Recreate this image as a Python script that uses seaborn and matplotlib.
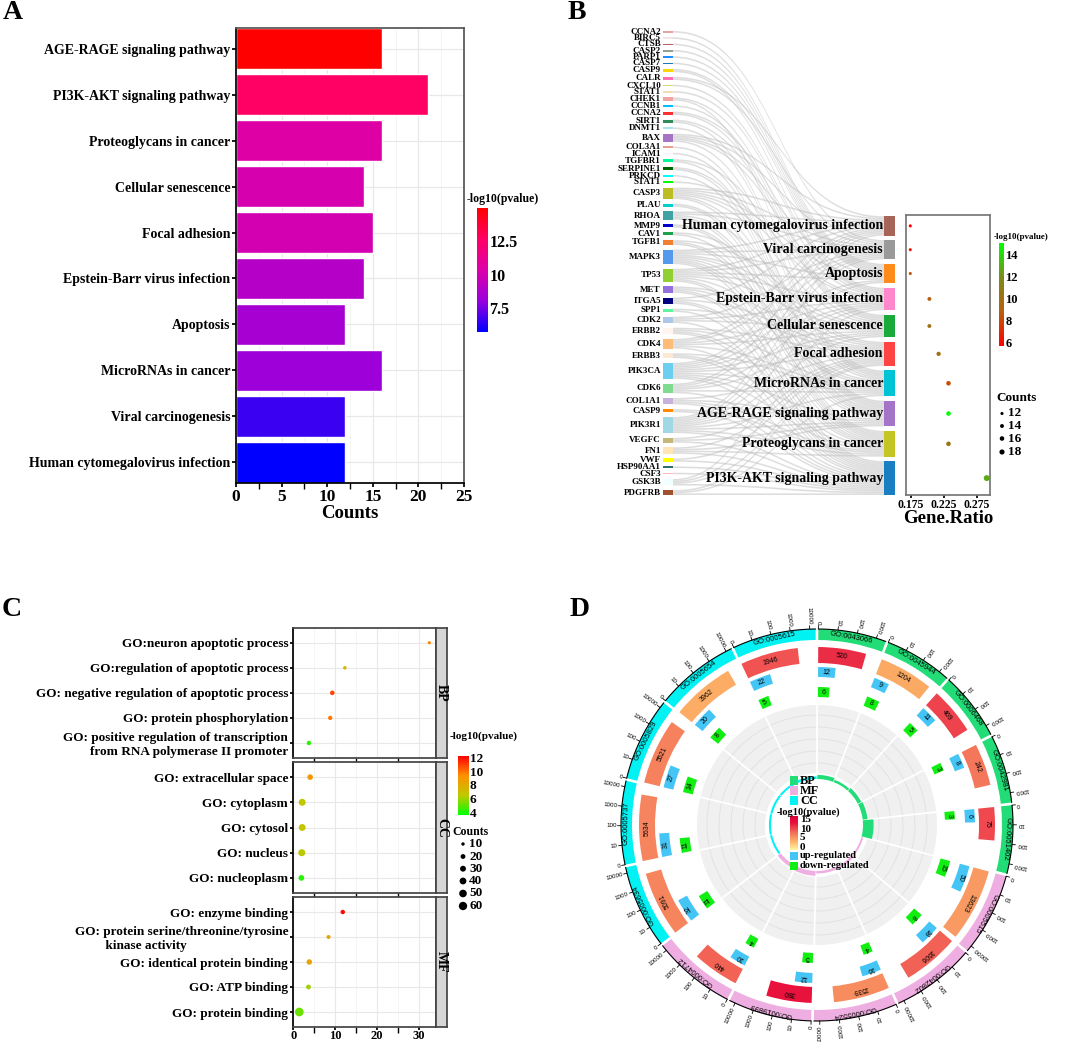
# %%
# ===== Importing Libraries =====
import numpy as np
import pandas as pd
import matplotlib
matplotlib.use('Agg')
import matplotlib.pyplot as plt
import seaborn as sns
from matplotlib.colors import LinearSegmentedColormap, Normalize
from matplotlib.cm import ScalarMappable
from matplotlib.patches import Rectangle, Wedge, PathPatch
from matplotlib.path import Path
from matplotlib.ticker import MultipleLocator

sns.set_theme(style='white', rc={'xtick.bottom': True, 'ytick.left': True})
plt.rcParams['font.family'] = ['Liberation Serif', 'DejaVu Serif']
plt.rcParams['font.weight'] = 'bold'
plt.rcParams['axes.labelweight'] = 'bold'
for key in ['text.color', 'axes.labelcolor', 'xtick.color', 'ytick.color']:
    plt.rcParams[key] = 'black'
SANS = ['Liberation Sans', 'DejaVu Sans']

# %%
# ===== Data : KEGG (panels A, B) =====
kegg_terms = ['AGE-RAGE signaling pathway', 'PI3K-AKT signaling pathway', 'Proteoglycans in cancer',
              'Cellular senescence', 'Focal adhesion', 'Epstein-Barr virus infection', 'Apoptosis',
              'MicroRNAs in cancer', 'Viral carcinogenesis', 'Human cytomegalovirus infection']
kegg_counts = [16, 21, 16, 14, 15, 14, 12, 16, 12, 12]
kegg_logp = [15.0, 12.7, 10.5, 10.1, 10.0, 9.0, 8.5, 8.2, 6.6, 5.7]
kegg_ratio = [0.232, 0.29, 0.232, 0.203, 0.217, 0.203, 0.174, 0.232, 0.174, 0.174]

path_order = ['Human cytomegalovirus infection', 'Viral carcinogenesis', 'Apoptosis',
              'Epstein-Barr virus infection', 'Cellular senescence', 'Focal adhesion',
              'MicroRNAs in cancer', 'AGE-RAGE signaling pathway', 'Proteoglycans in cancer',
              'PI3K-AKT signaling pathway']
path_colors = ['#a66557', '#9a9a9a', '#ff8c1a', '#ff88cc', '#1aaa3a', '#ff4444',
               '#00c4d6', '#a474c8', '#c4c424', '#1a7fc0']

genes = ['CCNA2', 'BIRC5', 'CTSB', 'CASP2', 'PARP1', 'CASP7', 'CASP9', 'CALR', 'CXCL10', 'STAT1',
         'CHEK1', 'CCNB1', 'CCNA2', 'SIRT1', 'DNMT1', 'BAX', 'COL3A1', 'ICAM1', 'TGFBR1', 'SERPINE1',
         'PRKCD', 'STAT1', 'CASP3', 'PLAU', 'RHOA', 'MMP9', 'CAV1', 'TGFB1', 'MAPK3', 'TP53',
         'MET', 'ITGA5', 'SPP1', 'CDK2', 'ERBB2', 'CDK4', 'ERBB3', 'PIK3CA', 'CDK6', 'COL1A1',
         'CASP9', 'PIK3R1', 'VEGFC', 'FN1', 'VWF', 'HSP90AA1', 'CSF3', 'GSK3B', 'PDGFRB']
gene_colors = ['#e9a3a3', '#f3e6e6', '#b5615e', '#8fa38f', '#1e90ff', '#1f77b4', '#ffd700', '#ff6eb4',
               '#d7d77a', '#f5deb3', '#f4a3a3', '#00bfff', '#ff3030', '#2e8b57', '#a8e4f0', '#a673c6',
               '#e8a090', '#f7eef7', '#00fa9a', '#006400', '#00ffff', '#00ff00', '#bcbd22', '#00ced1',
               '#3fa3a3', '#0000cd', '#1aa34a', '#f07f30', '#5599ee', '#90d030', '#9370db', '#000080',
               '#5ff59a', '#aec7e8', '#fff5ee', '#ffbb78', '#fde8d6', '#6ccff0', '#7fdc8f', '#c8b2d9',
               '#ff8c00', '#a0d8e6', '#c3b878', '#ffe4b5', '#ffff00', '#2f6f6f', '#ffb6c1', '#f0ffff',
               '#a0522d']
# pathway index (in path_order) for every gene
gene_links = [[1], [2], [2], [2], [2], [2], [2, 3], [0, 1], [3], [3],
              [4, 6], [4], [3, 4], [4, 6], [6], [0, 1, 2, 3, 6], [7], [7], [4, 7], [6, 7],
              [7], [3], [0, 1, 2, 3, 4, 6, 7], [7, 8], [0, 1, 5, 7, 8], [7, 8], [5, 8], [4, 7, 8],
              [0, 1, 2, 4, 5, 6, 7, 8, 9], [0, 1, 2, 3, 4, 6, 8, 9],
              [5, 6, 8, 9], [0, 5, 8, 9], [5, 9], [1, 3, 4, 9], [5, 6, 8, 9], [0, 1, 3, 4, 6, 9],
              [6, 8, 9], [0, 1, 2, 3, 4, 5, 6, 7, 8, 9], [0, 1, 3, 4, 6, 9], [5, 7, 8, 9],
              [8, 9], [0, 1, 2, 3, 4, 5, 6, 7, 8, 9], [5, 7, 9], [5, 7, 8, 9], [5, 9], [9], [9],
              [0, 3, 5, 9], [5, 6, 9]]

# %%
# ===== Data : GO (panels C, D) =====
c_ids = ['GO:0051402', 'GO:0042981', 'GO:0043066', 'GO:0006468', 'GO:0045944',
         'GO:0005615', 'GO:0005737', 'GO:0005829', 'GO:0005634', 'GO:0005654',
         'GO:0019899', 'GO:0004712', 'GO:0042802', 'GO:0005524', 'GO:0005515']
c_terms = ['GO:neuron apoptotic process', 'GO:regulation of apoptotic process',
           'GO: negative regulation of apoptotic process', 'GO: protein phosphorylation',
           'GO: positive regulation of transcription\nfrom RNA polymerase II promoter',
           'GO: extracellular space', 'GO: cytoplasm', 'GO: cytosol', 'GO: nucleus', 'GO: nucleoplasm',
           'GO: enzyme binding', 'GO: protein serine/threonine/tyrosine\n         kinase activity',
           'GO: identical protein binding', 'GO: ATP binding', 'GO: protein binding']
c_cat = ['BP'] * 5 + ['CC'] * 5 + ['MF'] * 5
c_fold = [32.5, 12.3, 9.3, 8.8, 3.7, 4.0, 2.1, 2.1, 2.0, 1.9, 11.8, 8.4, 3.8, 3.6, 1.4]
c_logp = [9.5, 7.2, 10.8, 9.8, 4.3, 9.0, 6.5, 6.6, 6.4, 4.2, 12.0, 8.2, 8.3, 6.0, 5.2]

d_ids = ['GO:0043066', 'GO:0045944', 'GO:0006468', 'GO:0042981', 'GO:0051402',
         'GO:0005515', 'GO:0042802', 'GO:0005524', 'GO:0019899', 'GO:0004712',
         'GO:0005634', 'GO:0005737', 'GO:0005829', 'GO:0005654', 'GO:0005615']
d_cat = ['BP'] * 5 + ['MF'] * 5 + ['CC'] * 5
d_background = [520, 1204, 469, 242, 75, 13623, 1606, 1539, 380, 440, 5091, 5634, 5521, 3962, 1946]
d_up = [12, 9, 11, 8, 6, 50, 18, 16, 12, 10, 32, 31, 27, 20, 22]
d_down = [6, 8, 5, 3, 3, 15, 8, 4, 5, 4, 11, 11, 14, 8, 5]
d_axis_max = {'BP': 3200, 'MF': 20000, 'CC': 20000}

# %%
# ===== Figure helpers =====
W, H = 1065, 1042
fig = plt.figure(figsize=(W / 100, H / 100), dpi=100)


def px_axes(x0, y0, x1, y1):
    return fig.add_axes([x0 / W, 1 - y1 / H, (x1 - x0) / W, (y1 - y0) / H])


texts = []  # (x, y, s, kwargs) drawn on the overlay at the end
dots = []   # (x, y, s, color)

# %%
# ===== Panel A : KEGG bar chart =====
normA = Normalize(5.7, 15.0)
cmapA = LinearSegmentedColormap.from_list('a', ['#0000ff', '#9900dd', '#dd00aa', '#ff0066', '#ff0000'])
axA = px_axes(236, 28, 464, 483)
sns.barplot(x=kegg_counts, y=kegg_terms, hue=kegg_terms, palette=[cmapA(normA(v)) for v in kegg_logp],
            saturation=1, width=0.9, legend=False, orient='h', ax=axA)
axA.set_xlim(0, 25)
axA.set_ylim(9.45, -0.45)
axA.set_xticks([0, 5, 10, 15, 20, 25])
axA.xaxis.set_minor_locator(MultipleLocator(2.5))
axA.set_axisbelow(True)
axA.grid(True, which='major', color='#e8e8e8', lw=0.9)
axA.grid(True, which='minor', axis='x', color='#f2f2f2', lw=0.6)
axA.tick_params(axis='x', labelsize=12.5, length=3, pad=1.5)
axA.tick_params(axis='y', labelsize=10, length=3, pad=1)
axA.set_xlabel('Counts', fontsize=13.5, labelpad=0)
axA.set_ylabel('')
for side in ['left', 'bottom']:
    axA.spines[side].set_color('black')
for side in ['top', 'right']:
    axA.spines[side].set_color('#555555')

caxA = px_axes(477, 208, 488, 332)
cbA = fig.colorbar(ScalarMappable(normA, cmapA), cax=caxA, ticks=[7.5, 10, 12.5])
cbA.ax.set_yticklabels(['7.5', '10', '12.5'])
cbA.outline.set_visible(False)
caxA.tick_params(labelsize=11.5, length=3, direction='in', color='white', pad=1)
texts.append((467, 199, '-log10(pvalue)', dict(fontsize=8.5, ha='left', va='center')))

# %%
# ===== Panel B : gene-pathway sankey + dot plot =====
axS = px_axes(530, 0, 905, 520)
axS.set_xlim(530, 905)
axS.set_ylim(520, 0)
axS.axis('off')

S = 1.61
n_links = [len(l) for l in gene_links]
gap_l = (464 - sum(n_links) * S) / (len(genes) - 1)
gene_top = 31 + np.concatenate([[0], np.cumsum(np.array(n_links[:-1]) * S + gap_l)])
path_sizes = [sum(j in l for l in gene_links) for j in range(len(path_order))]
gap_r = 4.5
right_h = sum(path_sizes) * S + gap_r * (len(path_order) - 1)
path_top = 495 - right_h + np.concatenate([[0], np.cumsum(np.array(path_sizes[:-1]) * S + gap_r)])
path_mid = path_top + np.array(path_sizes) * S / 2

x0, x1 = 673, 884
xm = (x0 + x1) / 2
codes = [Path.MOVETO, Path.CURVE4, Path.CURVE4, Path.CURVE4, Path.LINETO,
         Path.CURVE4, Path.CURVE4, Path.CURVE4, Path.CLOSEPOLY]
fill = path_top.copy()
for gi, links in enumerate(gene_links):
    gy = gene_top[gi]
    for pj in links:
        py = fill[pj]
        verts = [(x0, gy), (xm, gy), (xm, py), (x1, py), (x1, py + S),
                 (xm, py + S), (xm, gy + S), (x0, gy + S), (x0, gy)]
        axS.add_patch(PathPatch(Path(verts, codes), fc='#bdbdbd', ec='none', alpha=0.5, zorder=1))
        gy += S
        fill[pj] += S

for gi, g in enumerate(genes):
    h = n_links[gi] * S
    axS.add_patch(Rectangle((663, gene_top[gi]), 10, h, fc=gene_colors[gi], ec='none', zorder=3))
    axS.text(661, gene_top[gi] + h / 2, g, ha='right', va='center', fontsize=6.5, zorder=4)

for pj, p in enumerate(path_order):
    axS.add_patch(Rectangle((884, path_top[pj]), 11, path_sizes[pj] * S, fc=path_colors[pj],
                            ec='none', zorder=3))
    axS.text(883, path_mid[pj], p, ha='right', va='center', fontsize=10, zorder=5)

normB = Normalize(5.7, 15.0)
cmapB = LinearSegmentedColormap.from_list('b', ['#ff0000', '#b8600c', '#7c8a1c', '#00ff00'])
b_df = pd.DataFrame({'term': kegg_terms, 'count': kegg_counts, 'logp': kegg_logp, 'ratio': kegg_ratio})
b_df['y'] = [path_mid[path_order.index(t)] for t in b_df.term]
axB = px_axes(906, 215, 990, 495)
sns.scatterplot(data=b_df, x='ratio', y='y', hue='logp', palette=cmapB, hue_norm=normB,
                size='count', sizes=(5, 18), size_norm=(12, 21), legend=False, edgecolor='none', ax=axB)
axB.set_ylim(495, 215)
axB.set_xlim(0.1675, 0.295)
axB.set_xticks([0.175, 0.225, 0.275])
axB.set_yticks([])
axB.tick_params(axis='x', labelsize=8.5, length=2, pad=1)
axB.set_xlabel('Gene.Ratio', fontsize=13.5, labelpad=-1)
axB.set_ylabel('')
for sp in axB.spines.values():
    sp.set_color('#777777')

caxB = px_axes(999, 243, 1004, 346)
cbB = fig.colorbar(ScalarMappable(normB, cmapB), cax=caxB, ticks=[6, 8, 10, 12, 14])
cbB.outline.set_visible(False)
caxB.tick_params(labelsize=9, length=2, direction='in', color='white', pad=1)
texts.append((994, 237, '-log10(pvalue)', dict(fontsize=6.5, ha='left', va='center')))
texts.append((996, 398, 'Counts', dict(fontsize=9.5, ha='left', va='center')))
for v, yy in zip([12, 14, 16, 18], [413.5, 426, 438.5, 452]):
    dots.append((1002, yy, 5 + (v - 12) / 9 * 13, 'black'))
    texts.append((1008, yy, str(v), dict(fontsize=9.5, ha='left', va='center')))

# %%
# ===== Panel C : GO dot plot with facets =====
c_counts = [d_up[d_ids.index(i)] + d_down[d_ids.index(i)] for i in c_ids]
c_df = pd.DataFrame({'term': c_terms, 'cat': c_cat, 'fold': c_fold, 'logp': c_logp, 'count': c_counts})
normC = Normalize(3.6, 12.2)
cmapC = LinearSegmentedColormap.from_list('c', ['#00ff00', '#c0c800', '#ff9000', '#ff0000'])
facet_box = {'BP': (627.7, 758), 'CC': (762, 893), 'MF': (897, 1027)}
for cat in ['BP', 'CC', 'MF']:
    sub = c_df[c_df.cat == cat].reset_index(drop=True)
    y0, y1 = facet_box[cat]
    ax = px_axes(293, y0, 436, y1)
    sns.scatterplot(x=sub.fold, y=sub.index, hue=sub.logp, palette=cmapC, hue_norm=normC,
                    size=sub['count'], sizes=(0, 60), size_norm=(0, 100), legend=False,
                    edgecolor='none', ax=ax)
    ax.set_xlim(-0.1, 34.1)
    ax.set_ylim(4.6, -0.6)
    ax.set_yticks(range(5))
    ax.set_yticklabels(sub.term)
    for lab in ax.get_yticklabels():
        if 'kinase' in lab.get_text():
            lab.set_multialignment('left')
    ax.set_xticks([0, 10, 20, 30])
    ax.xaxis.set_minor_locator(MultipleLocator(5))
    ax.set_axisbelow(True)
    ax.grid(True, which='major', color='#e8e8e8', lw=0.8)
    ax.grid(True, which='minor', axis='x', color='#f2f2f2', lw=0.5)
    ax.tick_params(axis='y', labelsize=9.5, length=2.5, pad=1)
    if cat == 'MF':
        ax.tick_params(axis='x', labelsize=9, length=2, pad=0.5)
    else:
        ax.tick_params(axis='x', bottom=False, labelbottom=False)
    ax.set_xlabel('')
    ax.set_ylabel('')
    for sp in ax.spines.values():
        sp.set_color('#444444')
    ax.spines['left'].set_color('black')

    sax = px_axes(436, y0, 447, y1)
    sax.set_facecolor('#d6d6d6')
    sax.set_xticks([])
    sax.set_yticks([])
    for sp in sax.spines.values():
        sp.set_color('#444444')
    sax.text(0.5, 0.5, cat, rotation=-90, transform=sax.transAxes, ha='center', va='center', fontsize=10)

caxC = px_axes(458, 756, 469, 815)
cbC = fig.colorbar(ScalarMappable(normC, cmapC), cax=caxC, ticks=[4, 6, 8, 10, 12])
cbC.outline.set_visible(False)
caxC.tick_params(labelsize=9.5, length=2, direction='in', color='white', pad=0.5)
texts.append((450, 736, '-log10(pvalue)', dict(fontsize=8, ha='left', va='center')))
texts.append((452, 832, 'Counts', dict(fontsize=8.5, ha='left', va='center')))
for v, yy in zip([10, 20, 30, 40, 50, 60], [844, 856.5, 868.7, 881, 893.5, 906]):
    dots.append((463, yy, 0.6 * v, 'black'))
    texts.append((469, yy, str(v), dict(fontsize=9.5, ha='left', va='center')))

# %%
# ===== Panel D : GO circos plot =====
cat_colors = {'BP': '#22dd77', 'MF': '#efaee2', 'CC': '#00f2f2'}
up_color, down_color = '#44c5f5', '#11ee11'
normD = Normalize(0, 15)
cmapD = LinearSegmentedColormap.from_list('d', [(0, '#fff5a0'), (0.27, '#fcae65'), (0.47, '#f47a5c'),
                                                (0.63, '#ef4a50'), (0.8, '#e8123c'), (1, '#e00038')])
axD = px_axes(600, 608, 1034, 1042)


def xy(th, r):
    t = np.deg2rad(th)
    return r * np.sin(t), r * np.cos(t)


def ring(th0, th1, r0, r1, color, z=2):
    axD.add_patch(Wedge((0, 0), r1, 90 - th1, 90 - th0, width=r1 - r0, fc=color, ec='none', zorder=z))


def ring_text(th, r, s, size=5.0):
    x, y = xy(th, r)
    axD.text(x, y, s, rotation=-th, ha='center', va='center', rotation_mode='anchor',
             fontsize=size, family=SANS, fontweight='normal', zorder=6)


gap = 0.8
dec = np.array([np.log10(d_axis_max[c]) for c in d_cat])
k = (360 - gap * len(d_ids)) / dec.sum()
starts = np.concatenate([[0], np.cumsum(dec * k + gap)[:-1]]) + gap / 2

# inner grey background
ring(0, 360, 52, 120, '#f0f0f0', z=1)
for rr in [62, 74, 86, 98, 110]:
    th = np.linspace(0, 360, 200)
    gx, gy = xy(th, rr)
    axD.plot(gx, gy, color='#e2e2e2', lw=0.7, zorder=1.5)

for i, gid in enumerate(d_ids):
    t0 = starts[i]
    t1 = t0 + dec[i] * k
    col = cat_colors[d_cat[i]]
    ci = c_ids.index(gid)
    # outer band + axis
    ring(t0, t1, 185, 196, col)
    ring_text((t0 + t1) / 2, 190.5, gid, 5.5)
    th = np.linspace(t0, t1, 60)
    lx, ly = xy(th, 196)
    axD.plot(lx, ly, color='black', lw=0.8, zorder=3)
    for d in range(int(np.floor(dec[i] + 1e-9)) + 1):
        tt = t0 + d * k
        ax0, ay0 = xy(tt, 196)
        ax1, ay1 = xy(tt, 199.5)
        axD.plot([ax0, ax1], [ay0, ay1], color='black', lw=0.6, zorder=3)
        tx, ty = xy(tt, 200.5)
        axD.text(tx, ty, '0' if d == 0 else str(10 ** d), rotation=270 - tt, ha='right', va='center',
                 rotation_mode='anchor', fontsize=4.5, family=SANS, fontweight='normal')
    # background genes track
    tb = t0 + np.log10(d_background[i] + 1) * k
    ring(t0, tb, 162, 178, cmapD(normD(c_logp[ci])))
    ring_text((t0 + tb) / 2, 170, str(d_background[i]))
    # up / down regulated
    tu = t0 + np.log10(d_up[i] + 1) * k
    ring(t0, tu, 148, 158, up_color)
    ring_text((t0 + tu) / 2, 153, str(d_up[i]))
    td = t0 + np.log10(d_down[i] + 1) * k
    ring(t0, td, 128, 138, down_color)
    ring_text((t0 + td) / 2, 133, str(d_down[i]))
    # white separators in the grey area
    bx0, by0 = xy(t0 - gap / 2, 52)
    bx1, by1 = xy(t0 - gap / 2, 120)
    axD.plot([bx0, bx1], [by0, by1], color='white', lw=1.3, zorder=1.6)
    # inner fold-enrichment bars
    ring(t0, t1, 46, 47.5 + 0.28 * c_fold[ci], col, z=2)

# centre legend (pixel offsets from the centre 817, 825)
cx, cy = 817, 825
for lab, col, yy in [('BP', cat_colors['BP'], 780.5), ('MF', cat_colors['MF'], 790.5),
                     ('CC', cat_colors['CC'], 800.5)]:
    axD.add_patch(Rectangle((790 - cx, cy - yy - 4.5), 8, 9, fc=col, ec='none', zorder=5))
    axD.text(800 - cx, cy - yy, lab, ha='left', va='center', fontsize=8.8, zorder=6)
axD.text(808 - cx, cy - 812, '-log10(pvalue)', ha='center', va='center', fontsize=7.5, zorder=6)
axD.imshow(np.linspace(0, 1, 100)[:, None], extent=[790 - cx, 798 - cx, cy - 850, cy - 816],
           cmap=cmapD, origin='lower', aspect='auto', zorder=5)
for v, yy in zip(['15', '10', '5', '0'], [820, 829, 838, 847]):
    axD.text(800 - cx, cy - yy, v, ha='left', va='center', fontsize=8, zorder=6)
for lab, col, yy in [('up-regulated', up_color, 856), ('down-regulated', down_color, 866)]:
    axD.add_patch(Rectangle((790 - cx, cy - yy - 4), 8, 8, fc=col, ec='none', zorder=5))
    axD.text(800 - cx, cy - yy, lab, ha='left', va='center', fontsize=7.5, zorder=6)
axD.set_xlim(-217, 217)
axD.set_ylim(-217, 217)
axD.set_aspect('equal')
axD.axis('off')

# %%
# ===== Overlay : panel letters and legend texts =====
ov = fig.add_axes([0, 0, 1, 1])
ov.set_xlim(0, W)
ov.set_ylim(H, 0)
ov.axis('off')
for x, y, s, kw in texts:
    ov.text(x, y, s, **kw)
for x, y, s, c in dots:
    ov.scatter([x], [y], s=s, color=c, edgecolor='none')
for lab, x, y in [('A', 3, 0), ('B', 568, 0), ('C', 2, 597), ('D', 570, 597)]:
    ov.text(x, y, lab, fontsize=20, ha='left', va='top')

fig.savefig('out.png', dpi=100)
